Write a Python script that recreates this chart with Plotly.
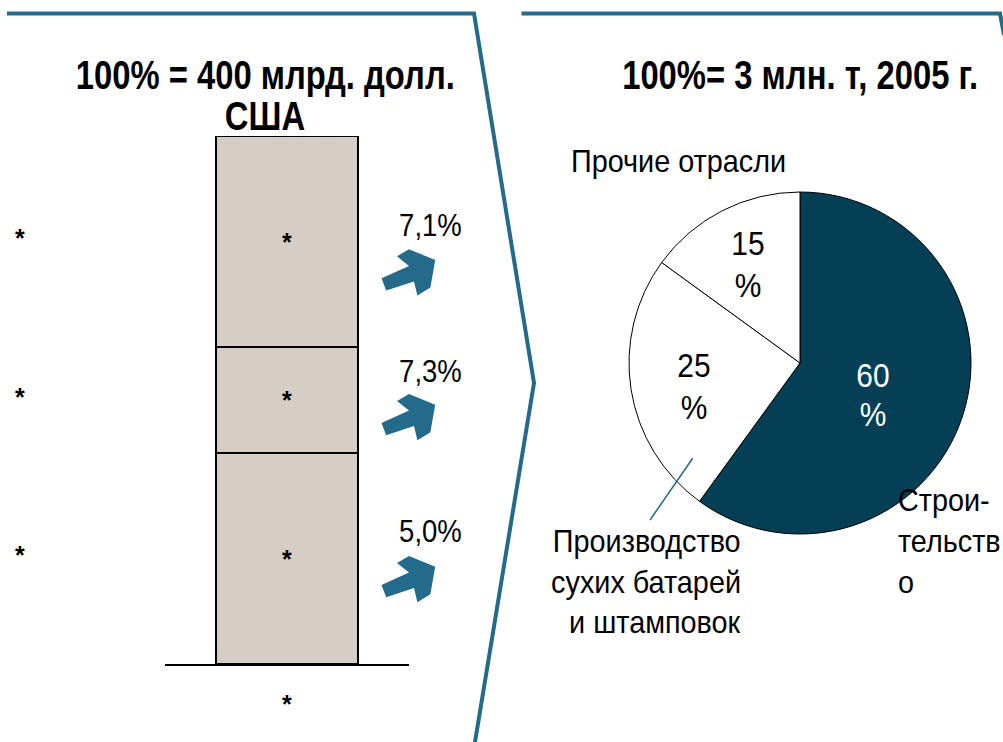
import json
import plotly.graph_objects as go

W, H = 1003, 742

# ---------------- data ----------------
bar_segments = ["Сегмент 3", "Сегмент 2", "Сегмент 1"]   # bottom -> top
bar_values = [40, 20, 40]
bar_labels = ["*", "*", "*"]
growth_labels = ["7,1%", "7,3%", "5,0%"]                  # top -> bottom
left_title = ["100% = 400 млрд. долл.", "США"]

pie_categories = ["Строительство", "Производство сухих батарей и штамповок", "Прочие отрасли"]
pie_values = [60, 25, 15]
pie_label_lines = [["Строи-", "тельств", "о"],
                   ["Производство", "сухих батарей", "и штамповок"],
                   ["Прочие отрасли"]]
right_title = "100%= 3 млн. т, 2005 г."

# ---------------- styles ----------------
FONT = "Liberation Sans Narrow, Arial Narrow, Liberation Sans, Arial, sans-serif"
TEAL = "#246a8a"
DARK = "#053f55"
BEIGE = "#d6cdc4"


def px(x):
    return x / W


def py(y):
    return 1 - y / H


annotations = []
xscales = []
origins = []


def ann(text, x, y, size, color="black", bold=False, xanchor="center", sx=1.0):
    t = f"<b>{text}</b>" if bold else text
    annotations.append(dict(text=t, x=px(x), y=py(y), xref="paper", yref="paper",
                            xanchor=xanchor, yanchor="middle", showarrow=False,
                            font=dict(family=FONT, size=size, color=color)))
    xscales.append(sx)
    origins.append({"left": "0%", "right": "100%", "center": "50%"}[xanchor])


fig = go.Figure()

# stacked bar
for name, v, lab in zip(bar_segments, bar_values, bar_labels):
    fig.add_trace(go.Bar(
        x=[0], y=[v], name=name, width=142 / 244,
        marker=dict(color=BEIGE, line=dict(color="black", width=2)),
        text=[f"<b>{lab}</b>"], textposition="inside", insidetextanchor="middle",
        textfont=dict(family=FONT, size=25, color="black"),
        showlegend=False, hoverinfo="skip"))

# pie
fig.add_trace(go.Pie(
    labels=pie_categories, values=pie_values, sort=False, direction="clockwise",
    rotation=0, textinfo="none", hoverinfo="skip", showlegend=False,
    marker=dict(colors=[DARK, "white", "white"], line=dict(color="black", width=1)),
    domain=dict(x=[px(629), px(971)], y=[py(534), py(192)])))

fig.update_layout(
    width=W, height=H, margin=dict(l=0, r=0, t=0, b=0),
    paper_bgcolor="white", plot_bgcolor="rgba(0,0,0,0)",
    barmode="stack", bargap=0,
    xaxis=dict(domain=[px(165), px(409)], range=[-0.5, 0.5], showgrid=False,
               zeroline=False, showticklabels=False, ticks="",
               showline=True, linecolor="black", linewidth=2),
    yaxis=dict(domain=[py(664), py(136)], range=[0, 100], showgrid=False,
               zeroline=False, showticklabels=False, ticks="", showline=False),
)

# titles
ann(left_title[0], 265, 75, 40, bold=True, sx=0.82)
ann(left_title[1], 265, 116, 40, bold=True, sx=0.82)
ann(right_title, 800, 75, 40, bold=True, sx=0.82)

# left asterisks & bottom asterisk
for yc in [236.5, 395, 553]:
    ann("*", 19.5, yc + 2, 25, bold=True)
ann("*", 287, 704, 25, bold=True)

# growth labels and arrows
arrow_shape = [(397, 256.3), (409, 249.3), (435.2, 260), (430.4, 287.5), (417.4, 295.5),
               (414, 281.4), (386.2, 290.5), (381.5, 278.3), (409, 265.9)]
shapes = []
for lab, yc, dy in zip(growth_labels, [225, 371, 530.5], [0, 144.7, 306.7]):
    ann(lab, 430, yc, 32, sx=0.86)
    path = "M " + " L ".join(f"{px(x):.5f},{py(y + dy):.5f}" for x, y in arrow_shape) + " Z"
    shapes.append(dict(type="path", path=path, xref="paper", yref="paper",
                       fillcolor=TEAL, line=dict(width=0)))


# panel outlines
def polyline(pts):
    return "M " + " L ".join(f"{px(x):.5f},{py(y):.5f}" for x, y in pts)


shapes.append(dict(type="path", xref="paper", yref="paper",
                   path=polyline([(7, 13.5), (474, 13.5), (534, 383), (474.5, 745)]),
                   line=dict(color=TEAL, width=4)))
shapes.append(dict(type="path", xref="paper", yref="paper",
                   path=polyline([(521.5, 13.5), (1000, 13.5), (1004, 35)]),
                   line=dict(color=TEAL, width=4)))
# leader line
shapes.append(dict(type="line", xref="paper", yref="paper",
                   x0=px(692.7), y0=py(458.3), x1=px(650), y1=py(520),
                   line=dict(color=TEAL, width=1.5)))

# pie value labels
for v, (xc, y1, y2), col in zip(pie_values,
                                [(873, 374.5, 413.5), (694, 365, 406.5), (748, 243, 285)],
                                ["white", "black", "black"]):
    ann(str(v), xc, y1, 34, color=col, sx=0.88)
    ann("%", xc, y2, 34, color=col, sx=0.88)

# pie category labels
for line, yc in zip(pie_label_lines[0], [499.5, 540.5, 581.5]):
    ann(line, 896, yc, 32, xanchor="left", sx=0.9)
for line, yc in zip(pie_label_lines[1], [540.5, 581.5, 621.5]):
    ann(line, 743, yc, 32, xanchor="right", sx=0.9)
ann(pie_label_lines[2][0], 678.5, 161, 32, sx=0.9)

fig.update_layout(annotations=annotations, shapes=shapes)

post_js = """
document.body.style.margin = '0px';
var gd = document.getElementById('{plot_id}');
var sc = %s;
var org = %s;
gd.querySelectorAll('g.annotation').forEach(function (g) {
  var i = +g.getAttribute('data-index');
  var t = g.querySelector('text.annotation-text');
  if (!t || isNaN(i) || sc[i] === 1) return;
  t.style.transformBox = 'fill-box';
  t.style.transformOrigin = org[i] + ' 50%%';
  t.style.transform = 'scaleX(' + sc[i] + ')';
});
""" % (json.dumps(xscales), json.dumps(origins))

fig.write_html("out.html", post_script=post_js, config={"displayModeBar": False})
